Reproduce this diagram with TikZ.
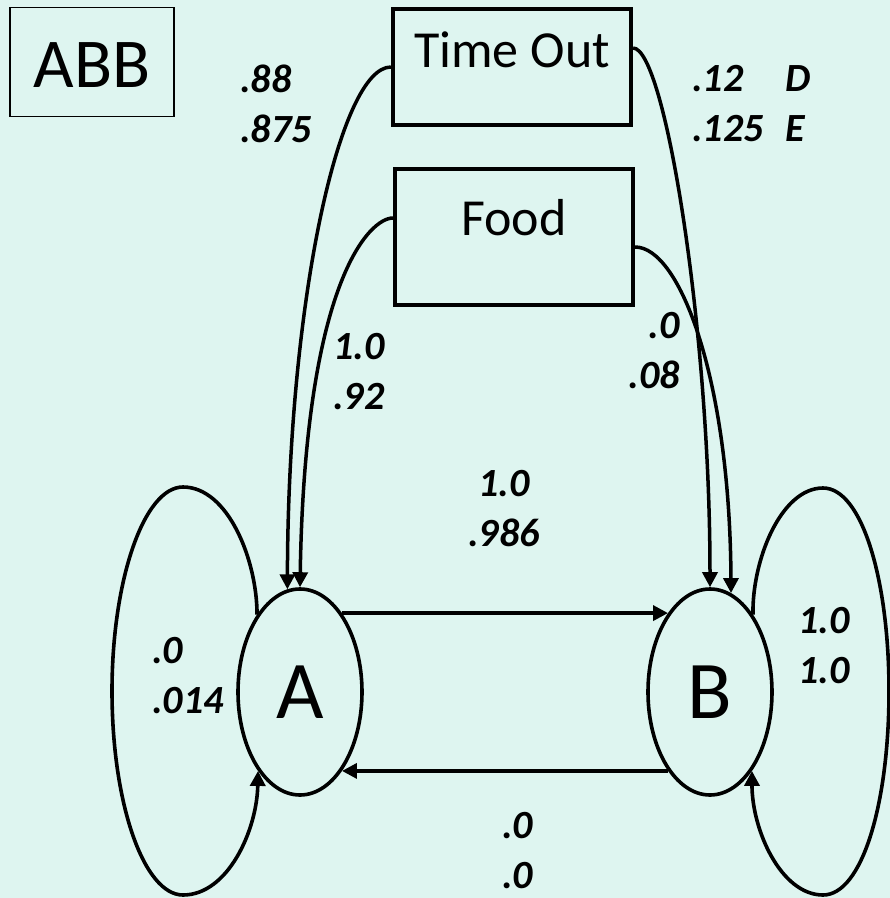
\documentclass[tikz,border=0pt]{standalone}
\usepackage{fontspec}
\setmainfont{Carlito}
\usetikzlibrary{arrows.meta,shapes.geometric}
\definecolor{bg}{RGB}{222,245,240}
\begin{document}
\begin{tikzpicture}[x=1pt,y=-1pt,
  box/.style={draw,line width=4.2pt,minimum width=238pt,inner sep=0pt,font=\fontsize{52}{60}\selectfont},
  state/.style={draw,ellipse,line width=3.6pt,minimum width=124pt,minimum height=206pt,inner sep=0pt,font=\fontsize{82}{90}\selectfont},
  prob/.style={inner sep=0pt,font=\fontsize{40}{50}\selectfont\bfseries\itshape},
  conn/.style={line width=3.5pt,-{Triangle[length=15pt,width=15pt]}},
  loopline/.style={line width=3.6pt,-{Triangle[length=15pt,width=15pt]}}
]
\fill[bg] (0,0) rectangle (890,898);
\useasboundingbox (0,0) rectangle (890,898);

\node[draw,line width=1.8pt,minimum width=164pt,inner sep=0pt,text height=79.5pt,text depth=29.5pt,font=\fontsize{70}{80}\selectfont] (abb) at (92,62) {ABB};
\node[box,text height=58pt,text depth=58pt] (timeout) at (512,67) {Time Out};
\node[box,text height=66pt,text depth=70pt] (food) at (514,237) {Food};

\node[state] (A) at (300,692) {A};
\node[state] (B) at (710,692) {B};

\draw[conn] (timeout.west) .. controls (340,67) and (288,300) .. (A.97);
\draw[conn] ([yshift=19pt]food.west) .. controls (370,218) and (305,280) .. (A.90);
\draw[conn] ([yshift=19pt]timeout.east) .. controls (665,48) and (710,330) .. (B.90);
\draw[conn] ([yshift=-10pt]food.east) .. controls (680,247) and (730,380) .. (B.78);

\draw[conn] (A.62) -- (B.118);
\draw[conn] (B.242) -- (A.-62);

\draw[loopline] (A.119) .. controls (257,560) and (228,487) .. (183,487)
  .. controls (144,487) and (112,580) .. (112,691)
  .. controls (112,804) and (144,895) .. (183,895)
  .. controls (228,895) and (257,830) .. (A.242);
\draw[loopline] (B.61) .. controls (752,560) and (781,488) .. (823,488)
  .. controls (862,488) and (889,580) .. (889,691)
  .. controls (889,804) and (862,895) .. (823,895)
  .. controls (781,895) and (752,830) .. (B.-62);

\node[prob,align=left,anchor=north west] (ptl) at (240,65) {.88\\.875};
\node[prob,align=left,anchor=north west] (ptr) at (692,65) {\makebox[93pt][l]{.12}D\\\makebox[93pt][l]{.125}E};
\node[prob,align=left,anchor=north west] (pfl) at (333,333) {1.0\\.92};
\node[prob,align=right,anchor=north east] (pfr) at (680,312) {.0\\.08};
\node[prob,align=center,anchor=north] (pab) at (504,470) {1.0\\.986};
\node[prob,align=left,anchor=north west] (pba) at (502,812) {.0\\.0};
\node[prob,align=left,anchor=north west] (paa) at (152,637) {.0\\.014};
\node[prob,align=left,anchor=north west] (pbb) at (798,607) {1.0\\1.0};
\end{tikzpicture}
\end{document}
